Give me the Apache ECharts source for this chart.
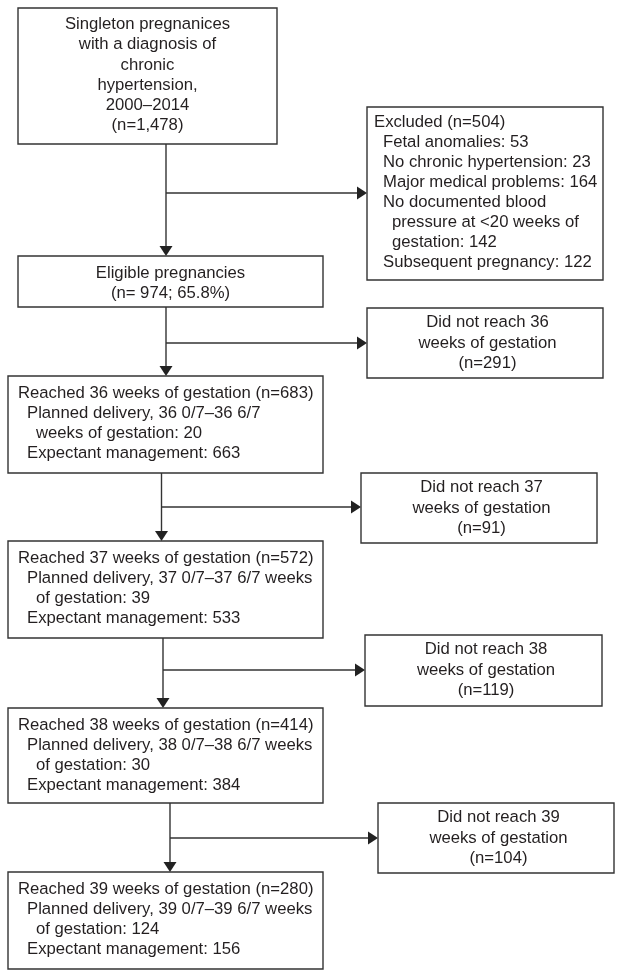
<!DOCTYPE html>
<html>
<head>
<meta charset="utf-8">
<script src="https://cdn.jsdelivr.net/npm/echarts@6/dist/echarts.min.js"></script>
<style>
  html, body { margin: 0; padding: 0; background: #fff; }
  #chart { width: 624px; height: 978px; }
</style>
</head>
<body>
<div id="chart"></div>
<script>
// flow counts
const stageWeeks = [36, 37, 38, 39];
const reachedCounts = [683, 572, 414, 280];
const plannedCounts = [20, 39, 30, 124];
const expectantCounts = [663, 533, 384, 156];
const notReachedCounts = [291, 91, 119, 104];
const cohortLines = ['Singleton pregnanices', 'with a diagnosis of', 'chronic', 'hypertension,', '2000–2014', '(n=1,478)'];
const eligibleLines = ['Eligible pregnancies', '(n= 974; 65.8%)'];
const excludedTotal = 504;
const exclusionReasons = [
  ['Fetal anomalies'],
  ['No chronic hypertension'],
  ['Major medical problems'],
  ['No documented blood', 'pressure at <20 weeks of', 'gestation'],
  ['Subsequent pregnancy']
];
const exclusionCounts = [53, 23, 164, 142, 122];

// layout (page pixels)
const FONT = '16.7px "Liberation Sans", Arial, sans-serif';
const TEXT = '#231f20';
const LINE = '#333';
const HEAD_LEN = 10, HEAD_HALF = 6.5;

const layout = {
  cohort: { x: 18, y: 8, w: 259, h: 136, first: 16.5, lh: 20.2 },
  excluded: { x: 367, y: 107, w: 236, h: 173, first: 15.3, lh: 20, indentX: [374, 383, 392] },
  eligible: { x: 18, y: 256, w: 305, h: 51, first: 17.3, lh: 20 },
  reached: [
    { x: 8, y: 376, w: 315, h: 97 },
    { x: 8, y: 541, w: 315, h: 97 },
    { x: 8, y: 708, w: 315, h: 95 },
    { x: 8, y: 872, w: 315, h: 97 }
  ],
  reachedText: { first: 17.6, lh: 20, indentX: [18, 27, 36] },
  // first stage wraps "weeks" to the second line
  weeksOnFirstLine: [false, true, true, true],
  notReached: [
    { x: 367, y: 308, w: 236, h: 70 },
    { x: 361, y: 473, w: 236, h: 70 },
    { x: 365, y: 635, w: 237, h: 71 },
    { x: 378, y: 803, w: 236, h: 70 }
  ],
  notReachedText: { first: 14.3, lh: 20.6, dx: 2.5 },
  connectors: [
    { x: 166, y0: 144, y1: 256, branchY: 193, tipX: 367 },
    { x: 166, y0: 307, y1: 376, branchY: 343, tipX: 367 },
    { x: 161.5, y0: 473, y1: 541, branchY: 507, tipX: 361 },
    { x: 163, y0: 638, y1: 708, branchY: 670, tipX: 365 },
    { x: 170, y0: 803, y1: 872, branchY: 838, tipX: 378 }
  ]
};

// assemble boxes from the data
const boxes = [];
boxes.push(Object.assign({ align: 'center', lines: cohortLines.map(t => ({ t, indent: 0 })) }, layout.cohort));
const exLines = [{ t: 'Excluded (n=' + excludedTotal + ')', indent: 0 }];
exclusionReasons.forEach((parts, i) => {
  parts.forEach((p, k) => {
    const last = k === parts.length - 1;
    exLines.push({ t: last ? p + ': ' + exclusionCounts[i] : p, indent: k === 0 ? 1 : 2 });
  });
});
boxes.push(Object.assign({ align: 'left', lines: exLines }, layout.excluded));
boxes.push(Object.assign({ align: 'center', lines: eligibleLines.map(t => ({ t, indent: 0 })) }, layout.eligible));

stageWeeks.forEach((w, i) => {
  const wk = layout.weeksOnFirstLine[i];
  const lines = [
    { t: 'Reached ' + w + ' weeks of gestation (n=' + reachedCounts[i] + ')', indent: 0 },
    { t: 'Planned delivery, ' + w + ' 0/7–' + w + ' 6/7' + (wk ? ' weeks' : ''), indent: 1 },
    { t: (wk ? 'of gestation: ' : 'weeks of gestation: ') + plannedCounts[i], indent: 2 },
    { t: 'Expectant management: ' + expectantCounts[i], indent: 1 }
  ];
  boxes.push(Object.assign({ align: 'left', lines, first: layout.reachedText.first, lh: layout.reachedText.lh, indentX: layout.reachedText.indentX }, layout.reached[i]));
  const nr = [
    { t: 'Did not reach ' + w, indent: 0 },
    { t: 'weeks of gestation', indent: 0 },
    { t: '(n=' + notReachedCounts[i] + ')', indent: 0 }
  ];
  boxes.push(Object.assign({ align: 'center', lines: nr, first: layout.notReachedText.first, lh: layout.notReachedText.lh, dx: layout.notReachedText.dx }, layout.notReached[i]));
});

function renderBox(params, api) {
  const b = boxes[params.dataIndex];
  const p0 = api.coord([b.x, b.y]);
  const p1 = api.coord([b.x + b.w, b.y + b.h]);
  const children = [{
    type: 'rect',
    shape: { x: p0[0], y: p0[1], width: p1[0] - p0[0], height: p1[1] - p0[1] },
    style: { fill: '#fff', stroke: LINE, lineWidth: 1.4 }
  }];
  b.lines.forEach((ln, k) => {
    const px = b.align === 'center' ? b.x + b.w / 2 + (b.dx || 0) : b.indentX[ln.indent];
    const pt = api.coord([px, b.y + b.first + k * b.lh]);
    children.push({
      type: 'text',
      style: { text: ln.t, x: pt[0], y: pt[1], textAlign: b.align, textVerticalAlign: 'middle', font: FONT, fill: TEXT }
    });
  });
  return { type: 'group', children };
}

function renderConnector(params, api) {
  const c = layout.connectors[params.dataIndex];
  const top = api.coord([c.x, c.y0]);
  const tipV = api.coord([c.x, c.y1]);
  const br = api.coord([c.x, c.branchY]);
  const tipH = api.coord([c.tipX, c.branchY]);
  const ls = { stroke: LINE, lineWidth: 1.4 };
  return {
    type: 'group',
    children: [
      { type: 'line', shape: { x1: top[0], y1: top[1], x2: tipV[0], y2: tipV[1] - HEAD_LEN }, style: ls },
      { type: 'polygon', shape: { points: [[tipV[0], tipV[1]], [tipV[0] - HEAD_HALF, tipV[1] - HEAD_LEN], [tipV[0] + HEAD_HALF, tipV[1] - HEAD_LEN]] }, style: { fill: '#222' } },
      { type: 'line', shape: { x1: br[0], y1: br[1], x2: tipH[0] - HEAD_LEN, y2: tipH[1] }, style: ls },
      { type: 'polygon', shape: { points: [[tipH[0], tipH[1]], [tipH[0] - HEAD_LEN, tipH[1] - HEAD_HALF], [tipH[0] - HEAD_LEN, tipH[1] + HEAD_HALF]] }, style: { fill: '#222' } }
    ]
  };
}

const chart = echarts.init(document.getElementById('chart'), null, { renderer: 'canvas' });
chart.setOption({
  backgroundColor: '#fff',
  animation: false,
  grid: { left: 0, right: 0, top: 0, bottom: 0 },
  xAxis: { type: 'value', min: 0, max: 624, show: false },
  yAxis: { type: 'value', min: 0, max: 978, inverse: true, show: false },
  series: [
    {
      type: 'custom',
      silent: true,
      renderItem: renderConnector,
      data: layout.connectors.map((c, i) => [i])
    },
    {
      type: 'custom',
      silent: true,
      renderItem: renderBox,
      data: boxes.map((b, i) => [i])
    }
  ]
});
</script>
</body>
</html>
